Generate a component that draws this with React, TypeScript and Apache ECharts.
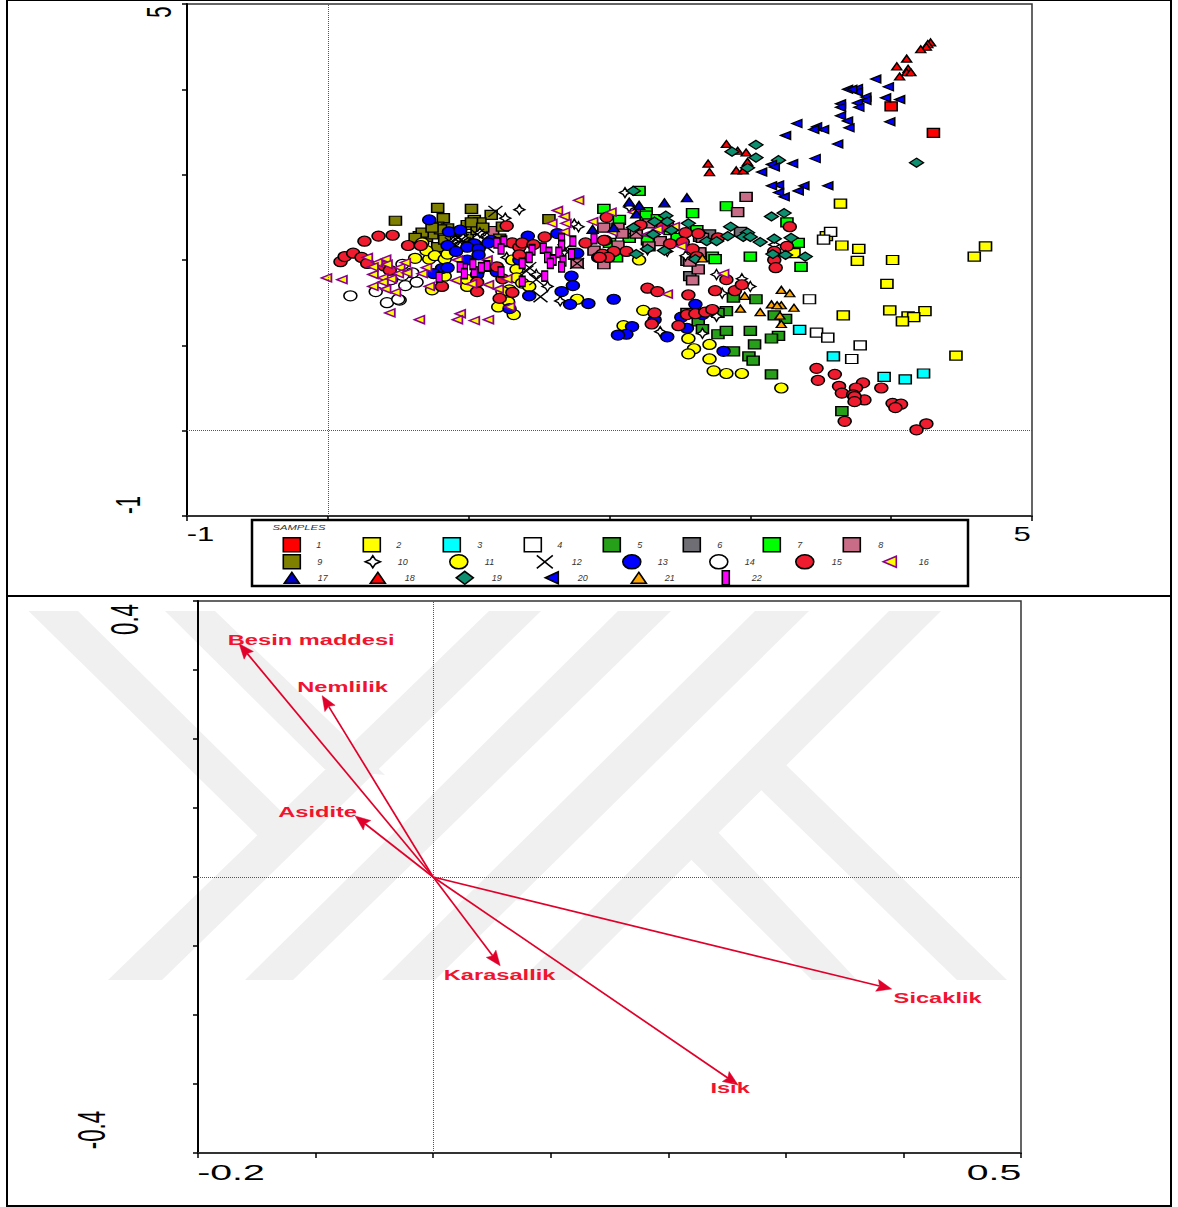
import React, { useEffect, useRef } from "react";
import * as echarts from "echarts";

// ---------- Sample scores (axis units) ----------
const s1 = [[4.0,3.80],[4.30,3.49]];
const s2 = [[3.64,2.66],[3.65,2.17],[3.77,2.13],[3.76,1.99],[4.01,2.00],[4.67,2.16],[4.59,2.04],[3.97,1.72],[3.66,1.35],[3.99,1.41],[4.12,1.34],[4.24,1.40],[4.16,1.33],[4.08,1.28],[4.46,0.88],[3.54,2.28],[3.31,2.08]];
const s3 = [[3.35,1.18],[3.59,0.87],[3.95,0.63],[4.10,0.60],[4.23,0.67]];
const s4 = [[3.57,2.33],[3.52,2.24],[3.42,1.54],[3.47,1.15],[3.55,1.09],[3.78,1.00],[3.72,0.84]];
const s5 = [[2.88,1.56],[3.04,1.54],[2.83,1.40],[3.17,1.35],[3.25,1.31],[2.63,1.28],[2.66,1.19],[2.77,1.13],[2.83,1.17],[3.00,1.17],[3.20,1.11],[3.15,1.08],[3.03,1.01],[2.88,0.93],[2.99,0.87],[3.02,0.82],[3.15,0.66],[3.65,0.23],[2.55,1.38],[2.77,1.38]];
const s6 = [[2.71,2.30],[2.93,2.33],[2.55,1.99],[2.57,1.81],[2.64,2.27]];
const s7 = [[2.21,2.81],[1.96,2.60],[2.26,2.56],[2.26,2.52],[2.07,2.47],[2.34,2.48],[2.59,2.55],[2.83,2.63],[3.26,2.44],[2.62,2.35],[3.34,2.20],[3.00,2.04],[3.36,1.92],[2.73,2.04],[2.75,2.01],[2.27,2.23],[2.43,2.35],[2.48,2.26],[2.14,2.26],[2.00,2.20],[2.05,2.03],[2.64,2.09]];
const s8 = [[2.97,2.74],[2.91,2.56],[1.96,2.38],[2.06,2.38],[2.09,2.31],[2.19,2.31],[2.28,2.43],[2.36,2.22],[2.06,2.17],[1.89,2.11],[2.63,1.89],[2.59,1.76],[1.96,1.95],[2.28,2.16],[2.66,2.26],[2.57,1.98],[2.41,2.39],[2.64,2.09],[1.17,2.34],[1.77,1.96]];
const s9 = [[0.48,2.46],[0.78,2.61],[1.02,2.60],[0.82,2.49],[1.16,2.53],[1.57,2.48],[1.04,2.47],[1.08,2.44],[0.78,2.39],[0.65,2.28],[0.70,2.27],[0.74,2.30],[0.85,2.37],[0.99,2.27],[0.99,2.41],[1.06,2.35],[1.22,2.25],[0.78,2.15],[0.64,2.23],[0.80,2.36],[1.02,2.44],[1.10,2.38],[1.24,2.39],[0.67,2.32],[0.74,2.38],[0.83,2.24],[0.94,2.33],[0.62,2.26]];
const s10 = [[1.36,2.59],[1.26,2.49],[1.27,2.03],[1.48,1.83],[1.56,1.69],[1.65,1.52],[1.75,2.42],[1.78,2.39],[1.68,2.10],[1.08,2.32],[1.13,2.27],[1.01,2.20],[0.89,2.22],[0.94,2.16],[0.96,2.26],[2.11,2.79],[2.14,2.62],[2.41,2.10],[2.27,2.12],[2.54,2.05],[2.76,1.83],[2.94,1.78],[3.00,1.69],[2.80,1.61],[2.76,1.34],[2.36,1.16],[2.66,1.14],[3.17,2.18]];
const s11 = [[2.21,2.00],[0.62,2.02],[0.72,2.01],[0.67,2.20],[0.70,2.11],[0.76,2.05],[0.83,2.01],[0.85,2.07],[0.99,1.69],[0.74,1.65],[0.83,1.81],[1.34,1.89],[1.34,1.79],[1.38,1.73],[1.43,1.69],[1.29,1.65],[1.24,1.63],[1.28,1.51],[1.21,1.45],[1.32,1.36],[1.77,1.54],[2.24,1.41],[2.10,1.23],[0.99,1.77],[1.31,2.00],[2.56,1.08],[2.71,1.01],[2.60,0.96],[2.56,0.90],[2.71,0.84],[2.74,0.70],[2.83,0.67],[2.94,0.67],[3.22,0.50]];
const s12 = [[1.19,2.57],[1.51,1.57],[1.43,1.91],[1.41,1.87],[1.68,2.12],[1.77,1.96],[1.13,2.15],[1.06,2.30],[0.95,2.24],[0.88,2.20],[0.92,2.27],[1.48,1.77],[2.19,2.33]];
const s13 = [[0.72,2.47],[0.86,2.33],[0.94,2.35],[1.04,2.19],[0.85,2.17],[0.99,2.15],[0.91,2.10],[1.07,2.13],[1.07,2.06],[1.16,2.23],[1.14,2.20],[1.42,2.28],[1.63,2.31],[0.99,2.00],[0.81,1.90],[0.75,1.84],[0.85,1.91],[1.06,1.83],[1.20,1.86],[1.36,2.00],[1.77,2.08],[1.73,1.81],[1.74,1.70],[1.66,1.63],[1.43,1.58],[1.72,1.48],[1.85,1.49],[2.03,1.54],[1.29,1.43],[1.92,2.03],[2.16,1.22],[2.12,1.13],[2.06,1.12],[2.32,1.30],[2.41,1.10],[2.55,1.20],[2.51,1.33],[2.61,1.48],[2.66,1.36],[2.81,0.93]];
const s14 = [[0.16,1.58],[0.34,1.63],[0.42,1.50],[0.51,1.53],[0.50,1.54],[0.55,1.70],[0.63,1.74],[0.45,1.77],[0.53,1.95],[0.60,1.85],[0.53,1.82]];
const s15 = [[0.09,1.98],[0.12,2.04],[0.18,2.08],[0.24,2.03],[0.28,1.96],[0.26,2.22],[0.36,2.28],[0.46,2.29],[0.57,2.17],[0.66,2.17],[0.40,1.93],[0.44,1.88],[1.27,2.40],[1.31,2.20],[1.36,2.15],[1.38,2.20],[1.46,2.18],[1.54,2.27],[1.36,2.06],[1.20,1.92],[1.24,1.78],[1.06,1.63],[0.81,1.69],[1.06,1.74],[1.31,1.62],[1.22,1.55],[1.83,2.20],[1.97,2.23],[1.98,2.50],[2.22,2.41],[2.38,2.39],[2.54,2.32],[2.63,2.31],[2.77,2.26],[1.96,2.23],[2.43,2.19],[2.52,2.21],[2.59,2.13],[2.12,2.10],[2.03,2.10],[1.95,2.07],[1.99,2.03],[1.93,2.03],[3.28,2.39],[3.26,2.16],[3.17,2.10],[3.17,2.00],[3.18,1.91],[2.27,1.67],[2.34,1.63],[2.56,1.59],[2.75,1.64],[2.83,1.77],[2.89,1.64],[2.94,1.71],[2.32,1.38],[2.30,1.25],[2.49,1.23],[2.55,1.36],[2.61,1.37],[2.68,1.39],[2.73,1.42],[2.62,2.04],[3.47,0.73],[3.60,0.66],[3.48,0.59],[3.63,0.52],[3.80,0.56],[3.75,0.50],[3.65,0.44],[3.73,0.42],[3.81,0.36],[3.74,0.40],[3.74,0.34],[3.93,0.50],[4.01,0.32],[4.07,0.31],[4.03,0.27],[3.67,0.11],[4.25,0.08],[4.18,0.01]];
const s16 = [[-0.01,1.79],[0.10,1.77],[0.28,2.03],[0.35,1.97],[0.32,1.92],[0.41,2.01],[0.42,1.95],[0.51,1.91],[0.55,1.97],[0.32,1.83],[0.39,1.79],[0.39,1.74],[0.32,1.69],[0.41,1.66],[0.48,1.62],[0.50,1.84],[0.56,1.85],[0.67,1.84],[0.70,1.91],[0.45,1.78],[0.44,1.38],[0.65,1.30],[0.94,1.37],[0.92,1.30],[1.04,1.29],[1.14,1.30],[1.29,1.45],[0.72,1.69],[0.92,2.00],[1.13,2.00],[0.91,1.76],[1.02,1.72],[1.14,1.71],[1.21,1.66],[1.27,1.78],[1.63,2.58],[1.68,2.51],[1.78,2.70],[1.59,2.43],[1.69,2.43],[1.68,2.33],[1.88,2.45],[2.01,2.56],[2.17,2.56],[2.02,2.33],[2.34,2.36],[2.46,2.39],[2.27,2.30],[2.51,2.16],[2.81,1.84],[2.41,1.60]];
const s17 = [[1.88,2.36],[2.03,2.38],[2.14,2.68],[2.21,2.64],[2.39,2.67],[2.55,2.73],[2.19,2.54]];
const s18 = [[4.28,4.55],[4.26,4.53],[4.25,4.50],[4.21,4.47],[4.11,4.36],[4.04,4.27],[4.12,4.24],[4.11,4.20],[4.14,4.20],[4.06,4.15],[2.83,3.36],[2.91,3.28],[2.97,3.26],[2.98,3.15],[2.70,3.13],[2.71,3.03],[2.90,3.05],[2.95,3.05]];
const s19 = [[3.04,3.35],[2.87,3.27],[3.04,3.20],[3.20,3.17],[2.98,3.08],[4.18,3.14],[2.17,2.81],[2.40,2.52],[2.41,2.45],[2.32,2.45],[2.17,2.38],[2.56,2.43],[2.44,2.35],[2.31,2.30],[2.86,2.39],[2.98,2.32],[2.95,2.27],[3.00,2.27],[2.84,2.28],[2.69,2.22],[2.76,2.22],[3.07,2.21],[3.15,2.51],[3.24,2.55],[3.17,2.25],[3.29,2.26],[3.16,2.07],[3.25,2.06],[3.39,2.04],[2.19,2.07],[2.39,2.11],[2.61,2.01],[2.27,2.13]];
const s20 = [[3.89,4.12],[3.98,4.03],[3.69,4.00],[3.76,4.01],[3.76,3.97],[3.82,3.91],[3.82,3.87],[3.96,3.90],[4.06,3.88],[3.76,3.84],[3.64,3.83],[3.64,3.79],[3.77,3.79],[3.64,3.69],[3.69,3.63],[3.99,3.62],[3.70,3.55],[3.33,3.60],[3.47,3.56],[3.45,3.53],[3.52,3.53],[3.25,3.46],[3.62,3.36],[3.46,3.19],[3.30,3.13],[3.15,3.12],[3.17,3.09],[3.08,3.03],[3.55,2.87],[3.38,2.87],[3.34,2.81],[3.20,2.88],[3.15,2.87],[3.20,2.79],[3.24,2.74],[3.72,4.00]];
const s21 = [[3.22,1.65],[3.28,1.61],[2.96,1.58],[2.93,1.43],[3.07,1.39],[3.15,1.48],[3.22,1.47],[3.19,1.47],[3.31,1.44],[3.21,1.35],[3.22,1.25],[2.66,2.02]];
const s22 = [[1.20,2.20],[1.25,2.22],[1.23,2.13],[1.45,2.12],[1.53,2.14],[1.43,2.03],[1.38,1.96],[1.57,2.09],[1.56,2.03],[1.60,2.00],[1.58,1.96],[1.66,2.25],[1.66,2.17],[1.74,2.22],[1.64,2.09],[1.73,2.07],[1.67,1.99],[1.66,1.92],[1.89,2.25],[1.54,1.81],[1.38,1.75],[1.23,1.86],[1.13,1.93],[1.09,1.91],[1.04,1.86],[1.03,1.95],[0.97,1.90],[0.94,1.92],[0.97,1.84],[0.79,1.80]];

// ---------- Environmental vectors ----------
const vectorNames = ["Besin maddesi", "Nemlilik", "Asidite", "Karasallik", "Sicaklik", "Isik"];
const vectorX = [-0.165, -0.0944, -0.0663, 0.057, 0.39, 0.2594];
const vectorY = [0.338, 0.2628, 0.0884, -0.1286, -0.1623, -0.3014];
const labelX = [-0.1037, -0.077, -0.0983, 0.0565, 0.4291, 0.2526];
const labelY = [0.3442, 0.2754, 0.0942, -0.1413, -0.1754, -0.3058];

const legendTitle = "SAMPLES";
const sampleNames = Array.from({ length: 22 }, (_, i) => String(i + 1));
const sampleData = [s1,s2,s3,s4,s5,s6,s7,s8,s9,s10,s11,s12,s13,s14,s15,s16,s17,s18,s19,s20,s21,s22];

// ---------- Symbols ----------
const RECT = "path://M0 0L4 0L4 3L0 3Z";
const ELLIPSE = "path://M0 -1A1 1 0 1 1 0 1A1 1 0 1 1 0 -1Z";
const STAR = "path://M0 -1L0.35 -0.35L1 0L0.35 0.35L0 1L-0.35 0.35L-1 0L-0.35 -0.35Z";
const CROSS = "path://M0 0L1 1M1 0L0 1";
const TRI_UP = "path://M0.5 0L1 1L0 1Z";
const TRI_LEFT = "path://M0 0.5L1 0L1 1Z";
const DIAMOND = "path://M0.5 0L1 0.5L0.5 1L0 0.5Z";
const TALL = "path://M0 0L1 0L1 2L0 2Z";
const BLACK = "#000";

type Style = { sym: string; fill: string; stroke: string; size: number[]; leg: number[]; lw?: number };
const rectS = (fill: string): Style => ({ sym: RECT, fill, stroke: BLACK, size: [12, 9], leg: [17, 14] });
const ellS = (fill: string): Style => ({ sym: ELLIPSE, fill, stroke: BLACK, size: [13, 10], leg: [18, 14] });
const styles: Style[] = [
  rectS("#ff0000"), rectS("#ffff00"), rectS("#00ffff"), rectS("#ffffff"), rectS("#26a018"), rectS("#6e6e74"),
  rectS("#00ff00"), rectS("#c96c88"), rectS("#808000"),
  { sym: STAR, fill: "#fff", stroke: BLACK, size: [11, 10], leg: [15, 12] },
  ellS("#ffff00"),
  { sym: CROSS, fill: "transparent", stroke: BLACK, size: [14, 11], leg: [16, 13] },
  ellS("#0000ff"), ellS("#ffffff"), ellS("#ee1c2e"),
  { sym: TRI_LEFT, fill: "#ffff00", stroke: "#8b008b", size: [10, 8], leg: [13, 11], lw: 1.6 },
  { sym: TRI_UP, fill: "#0000cc", stroke: BLACK, size: [11, 8], leg: [15, 11] },
  { sym: TRI_UP, fill: "#ff0000", stroke: BLACK, size: [10, 7], leg: [15, 11] },
  { sym: DIAMOND, fill: "#0e8f70", stroke: BLACK, size: [14, 9], leg: [17, 13] },
  { sym: TRI_LEFT, fill: "#0000ff", stroke: BLACK, size: [10, 8], leg: [13, 12] },
  { sym: TRI_UP, fill: "#ffa500", stroke: BLACK, size: [10, 7], leg: [15, 11] },
  { sym: TALL, fill: "#ff00ff", stroke: BLACK, size: [6, 10], leg: [7, 14] },
];

// legend layout: symbol centres and label centres
const legendRows = [
  { y: 544, sym: [291, 371, 451, 532, 611, 691, 771, 851], txt: [318, 398, 479, 559, 639, 719, 799, 880] },
  { y: 561, sym: [291, 372, 458, 544, 631, 718, 804, 889], txt: [319, 402, 489, 576, 662, 749, 836, 923] },
  { y: 577, sym: [291, 377, 464, 551, 638, 725], txt: [322, 409, 496, 582, 669, 756] },
];
const legendInk = "#333";

function buildLegends() {
  const out: any[] = [];
  let idx = 0;
  for (const row of legendRows) {
    row.sym.forEach((cx, j) => {
      const st = styles[idx];
      const name = sampleNames[idx];
      const tw = name.length === 1 ? 5 : 10;
      const [w, h] = st.leg;
      const left = cx - w / 2;
      const pad = Math.max(0, row.txt[j] - tw / 2 - (left + w + 5));
      out.push({
        show: true, left, top: row.y - h / 2, padding: 0, orient: "horizontal", selectedMode: false,
        itemWidth: w, itemHeight: h, symbolKeepAspect: false,
        data: [{
          name, icon: st.sym,
          itemStyle: { color: st.fill, borderColor: st.stroke, borderWidth: 1.6 },
          textStyle: { padding: [0, 0, 0, pad], color: legendInk },
        }],
        textStyle: { fontFamily: "Liberation Sans", fontStyle: "italic", fontSize: 9, color: legendInk },
      });
      idx++;
    });
  }
  return out;
}

const WM = "#f0f0f0";
const watermark: number[][][] = [
  // rising bands
  [[108, 980], [162, 980], [541, 611], [489, 611]],
  [[245, 980], [293, 980], [671, 611], [618, 611]],
  [[382, 980], [435, 980], [809, 611], [755, 611]],
  [[521, 980], [571, 980], [941, 611], [889, 611]],
  // falling arms
  [[28.5, 611], [78, 611], [300, 830], [258, 836]],
  [[165, 611], [215, 611], [385, 775], [324.5, 769]],
  [[687.5, 856], [716, 830], [857, 980], [812, 980]],
  [[759, 788], [784, 763], [1007, 980], [957, 980]],
];

const textBase = { fontFamily: "Liberation Sans", fill: "#000" };
const tick = (text: string, x: number, y: number, size: number, sx: number, vertical: boolean) => ({
  type: "text", x, y, rotation: vertical ? Math.PI / 2 : 0, scaleX: sx, silent: true, z: 5,
  style: { ...textBase, text, fontSize: size, align: "center", verticalAlign: "middle" },
});

function renderVector(params: any, api: any) {
  const o = api.coord([0, 0]);
  const t = api.coord([api.value(0), api.value(1)]);
  const l = api.coord([api.value(2), api.value(3)]);
  const dx = t[0] - o[0], dy = t[1] - o[1];
  const len = Math.hypot(dx, dy);
  const ux = dx / len, uy = dy / len;
  const bx = t[0] - ux * 15, by = t[1] - uy * 15;
  const nx = bx + ux * 2.5, ny = by + uy * 2.5;
  const red = "#e0002a";
  return {
    type: "group",
    children: [
      { type: "line", shape: { x1: o[0], y1: o[1], x2: nx, y2: ny }, style: { stroke: red, lineWidth: 1.7 } },
      {
        type: "polygon",
        shape: { points: [t, [bx - uy * 6, by + ux * 6], [nx, ny], [bx + uy * 6, by - ux * 6]] },
        style: { fill: red, stroke: red, lineWidth: 0.5 },
      },
      {
        type: "text", x: l[0], y: l[1], scaleX: 1.69,
        style: {
          text: vectorNames[params.dataIndex], fontFamily: "Liberation Sans", fontWeight: "bold", fontSize: 14,
          fill: "#f0142f", align: "center", verticalAlign: "middle",
        },
      },
    ],
  };
}

const dotted = (xi: number) => ({
  type: "scatter", xAxisIndex: xi, yAxisIndex: xi, data: [], z: 1, silent: true,
  markLine: {
    silent: true, symbol: "none", label: { show: false }, animation: false,
    lineStyle: { type: "dotted", color: "#555", width: 1 },
    data: [{ xAxis: 0 }, { yAxis: 0 }],
  },
});

const axis = (gridIndex: number, min: number, max: number, interval: number, color: string) => ({
  type: "value", gridIndex, min, max, interval, scale: false,
  splitLine: { show: false },
  axisLabel: { show: false },
  axisLine: { show: true, onZero: false, lineStyle: { color, width: 2 } },
  axisTick: { show: true, length: 5, lineStyle: { color: "#000", width: 1.5 } },
});

export default function App() {
  const ref = useRef<HTMLDivElement>(null);
  useEffect(() => {
    const chart = echarts.init(ref.current!, undefined, { renderer: "svg" });
    chart.setOption({
      animation: false,
      backgroundColor: "#fff",
      grid: [
        { left: 187, top: 4, width: 845, height: 512, show: true, borderColor: "#333", borderWidth: 1.5, backgroundColor: "transparent" },
        { left: 198, top: 601, width: 823, height: 552, show: true, borderColor: "#333", borderWidth: 1.5, backgroundColor: "transparent" },
      ],
      xAxis: [axis(0, -1, 5, 1, "#333"), axis(1, -0.2, 0.5, 0.1, "#333")],
      yAxis: [axis(0, -1, 5, 1, "#000"), axis(1, -0.4, 0.4, 0.1, "#000")],
      legend: buildLegends(),
      series: [
        dotted(0),
        dotted(1),
        ...sampleData.map((d, i) => ({
          type: "scatter", name: sampleNames[i], xAxisIndex: 0, yAxisIndex: 0, data: d,
          symbol: styles[i].sym, symbolSize: styles[i].size, symbolKeepAspect: false,
          itemStyle: { color: styles[i].fill, borderColor: styles[i].stroke, borderWidth: styles[i].lw ?? 1.4, opacity: 1 },
          silent: true,
        })),
        {
          type: "custom", name: "vectors", xAxisIndex: 1, yAxisIndex: 1, clip: false, silent: true, z: 3,
          renderItem: renderVector,
          data: vectorNames.map((_, i) => [vectorX[i], vectorY[i], labelX[i], labelY[i]]),
          encode: { x: 0, y: 1 },
        },
      ],
      graphic: [
        ...watermark.map((p) => ({ type: "polygon", z: -1, silent: true, shape: { points: p }, style: { fill: WM } })),
        { type: "rect", z: 5, silent: true, shape: { x: 7, y: 0, width: 1164, height: 1206 }, style: { fill: "none", stroke: "#000", lineWidth: 2 } },
        { type: "line", z: 5, silent: true, shape: { x1: 7, y1: 596, x2: 1171, y2: 596 }, style: { stroke: "#000", lineWidth: 2 } },
        { type: "rect", z: 5, silent: true, shape: { x: 252, y: 520, width: 716, height: 66 }, style: { fill: "none", stroke: "#000", lineWidth: 2.5 } },
        {
          type: "text", x: 299, y: 527, scaleX: 1.4, z: 5, silent: true,
          style: { text: legendTitle, fontFamily: "Liberation Sans", fontStyle: "italic", fontSize: 8, fill: "#333", align: "center", verticalAlign: "middle" },
        },
        tick("-1", 200.5, 534, 20, 1.55, false),
        tick("5", 1022, 534, 20, 1.55, false),
        tick("-1", 128, 505, 35, 0.58, true),
        tick("5", 158.5, 12, 35, 0.58, true),
        tick("-0.2", 231, 1172, 22, 1.78, false),
        tick("0.5", 994, 1172, 22, 1.78, false),
        tick("-0.4", 91, 1130, 39, 0.57, true),
        tick("0.4", 124, 619.5, 39, 0.57, true),
      ],
    });
    return () => chart.dispose();
  }, []);
  return <div ref={ref} style={{ position: "fixed", left: 0, top: 0, width: 1178, height: 1207 }} />;
}
